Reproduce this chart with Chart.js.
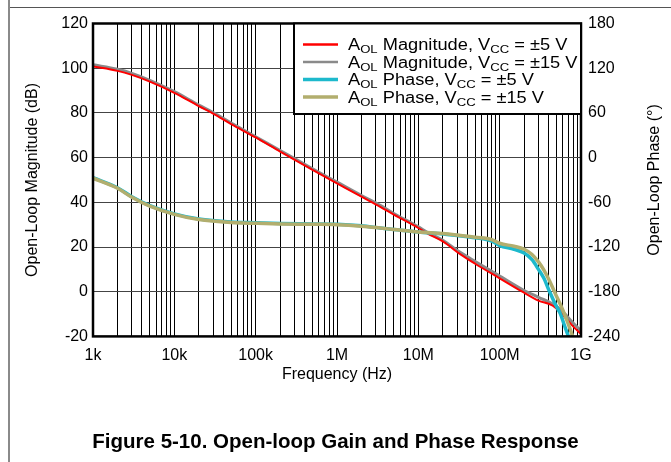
<!DOCTYPE html>
<html><head><meta charset="utf-8">
<script src="https://cdn.jsdelivr.net/npm/chart.js@4/dist/chart.umd.min.js"></script>
<style>
html,body{margin:0;padding:0;background:#fff;}
#wrap{position:relative;width:671px;height:462px;}
</style></head><body>
<div id="wrap"><canvas id="c" width="671" height="462"></canvas></div>
<script>
// ---- data (Hz, dB, degrees) ----
const magFreq = [1e3,2e3,3e3,5e3,1e4,2e4,3e4,5e4,1e5,2e5,5e5,1e6,2e6,3.4e6,5e6,1e7,1.3e7,2e7,3.3e7,5e7,1e8,1.9e8,3e8,4.5e8,5.8e8,8e8,1e9];
const magPm5  = [100.8,98.8,97,94,89,83,79.7,75,69,62.7,54.5,48.5,42.5,38,34.5,28.5,26,22.5,16.7,12.5,6,0,-4,-6.3,-10,-15.5,-19];
const magPm15 = [101.5,99.5,97.7,94.6,89.5,83.5,80.2,75.5,69.3,63.2,55,49,43,38.6,35,29,26.5,23,17.5,13.5,7,1,-2.5,-5.5,-8.5,-14,-17.5];

const phase5Freq = [1e3,2e3,3e3,5e3,1e4,2e4,5e4,1e5,2e5,5e5,1e6,2e6,3.4e6,5e6,1e7,2e7,3e7,5e7,8e7,1e8,1.5e8,2e8,2.5e8,3e8,3.5e8,4e8,5e8,5.6e8,6.2e8,7e8];
const phase5     = [-27,-40.5,-52.5,-64.5,-75.5,-82.5,-86.5,-87.5,-88.5,-89,-89.5,-91.5,-94.5,-96.5,-100,-102.5,-104.5,-107.5,-112,-118,-123,-128,-137,-150,-162,-177,-200,-210,-224,-240];
const phase15Freq = [1e3,2e3,3e3,5e3,1e4,2e4,5e4,1e5,2e5,5e5,1e6,2e6,3.4e6,5e6,1e7,2e7,3e7,5e7,8e7,1e8,1.5e8,2e8,2.5e8,3e8,3.5e8,4e8,5e8,6e8,7e8,7.9e8];
const phase15     = [-27.7,-41.2,-53.2,-65.2,-76.2,-83.2,-87.2,-88.2,-89,-89.5,-90,-92,-94.5,-96.5,-100,-102,-104,-107,-110,-115,-119,-123,-130,-140,-151,-163,-186,-205,-224,-240];

const xTickValues = [1e3,1e4,1e5,1e6,1e7,1e8,1e9];
const xTickLabels = ['1k','10k','100k','1M','10M','100M','1G'];

const seriesNames = [
  ['A','OL',' Magnitude, V','CC',' = \u00b15 V'],
  ['A','OL',' Magnitude, V','CC',' = \u00b115 V'],
  ['A','OL',' Phase, V','CC',' = \u00b15 V'],
  ['A','OL',' Phase, V','CC',' = \u00b115 V']
];
const seriesColors = ['#ff0000','#8a8a8a','#1db9cc','#b2ae6e'];

// ---- helpers ----
const pts = (xs, ys) => xs.map((x, i) => ({x: x, y: ys[i]}));
const xGrid = [];
for (let e = 3; e < 9; e++) for (let m = 1; m < 10; m++) xGrid.push(m * Math.pow(10, e));
xGrid.push(1e9);

const FONT = "'Liberation Sans', Arial, Helvetica, sans-serif";
Chart.defaults.font.family = FONT;
Chart.defaults.color = '#000';

const framePlugin = {
  id: 'frame',
  beforeDraw(chart) {
    const ctx = chart.ctx;
    ctx.save();
    ctx.strokeStyle = '#555';
    ctx.lineWidth = 1;
    ctx.beginPath(); ctx.moveTo(9, 7.5); ctx.lineTo(671, 7.5); ctx.stroke();
    ctx.strokeStyle = '#8a8a8a';
    ctx.lineWidth = 2;
    ctx.beginPath(); ctx.moveTo(9, 0); ctx.lineTo(9, 462); ctx.stroke();
    ctx.restore();
  },
  afterDatasetsDraw(chart) {
    const {ctx, chartArea: a} = chart;
    ctx.save();
    ctx.strokeStyle = '#000';
    ctx.lineWidth = 2.5;
    ctx.strokeRect(a.left, a.top, a.right - a.left, a.bottom - a.top);
    // legend
    const x0 = 294, y0 = a.top, x1 = a.right, y1 = 114;
    ctx.fillStyle = '#fff';
    ctx.fillRect(x0, y0, x1 - x0, y1 - y0);
    ctx.lineWidth = 2;
    ctx.strokeRect(x0, y0, x1 - x0, y1 - y0);
    const rowY = [44.5, 62, 79.5, 97];
    seriesNames.forEach((parts, i) => {
      const y = rowY[i];
      ctx.strokeStyle = seriesColors[i];
      ctx.lineWidth = i < 2 ? 2.5 : 3.5;
      ctx.beginPath(); ctx.moveTo(303, y); ctx.lineTo(338, y); ctx.stroke();
      ctx.save();
      ctx.translate(348, y);
      ctx.scale(1.14, 1);
      ctx.fillStyle = '#000';
      ctx.textBaseline = 'alphabetic';
      let x = 0;
      parts.forEach((p, k) => {
        const sub = (k % 2 === 1);
        ctx.font = (sub ? '11.5px ' : '16px ') + FONT;
        ctx.fillText(p, x, sub ? 8.5 : 5.5);
        x += ctx.measureText(p).width;
      });
      ctx.restore();
    });
    ctx.restore();
  },
  afterDraw(chart) {
    const {ctx, chartArea: a} = chart;
    ctx.save();
    ctx.translate(655, (a.top + a.bottom) / 2);
    ctx.rotate(-Math.PI / 2);
    ctx.font = '16px ' + FONT;
    ctx.fillStyle = '#000';
    ctx.textAlign = 'center';
    ctx.textBaseline = 'middle';
    ctx.fillText('Open-Loop Phase (\u00b0)', 0, 0);
    ctx.restore();
  }
};

const common = {pointRadius: 0, pointHoverRadius: 0, fill: false, tension: 0.4, cubicInterpolationMode: 'monotone'};

new Chart(document.getElementById('c'), {
  type: 'line',
  data: {
    datasets: [
      Object.assign({label: 'mag5', data: pts(magFreq, magPm5), borderColor: seriesColors[0], borderWidth: 2, yAxisID: 'y', order: 2}, common),
      Object.assign({label: 'mag15', data: pts(magFreq, magPm15), borderColor: seriesColors[1], borderWidth: 3, yAxisID: 'y', order: 3}, common),
      Object.assign({label: 'ph5', data: pts(phase5Freq, phase5), borderColor: seriesColors[2], borderWidth: 3.5, yAxisID: 'y1', order: 1}, common),
      Object.assign({label: 'ph15', data: pts(phase15Freq, phase15), borderColor: seriesColors[3], borderWidth: 3.5, yAxisID: 'y1', order: 0}, common)
    ]
  },
  options: {
    responsive: false,
    animation: false,
    devicePixelRatio: 1,
    parsing: true,
    layout: {padding: {left: 0, right: 0, top: 23.5, bottom: 0}},
    plugins: {
      legend: {display: false},
      tooltip: {enabled: false},
      title: {
        display: true, position: 'bottom',
        text: 'Figure 5-10. Open-loop Gain and Phase Response',
        font: {size: 20.5, weight: 'bold'}, color: '#000',
        padding: {top: 0, bottom: 7}
      }
    },
    scales: {
      x: {
        type: 'logarithmic', min: 1e3, max: 1e9,
        afterBuildTicks(s) { s.ticks = xGrid.map(v => ({value: v})); },
        afterFit(s) { s.height = 94; },
        ticks: {
          autoSkip: false, maxRotation: 0, minRotation: 0, padding: 10,
          font: {size: 16}, color: '#000',
          callback(v) { const i = xTickValues.indexOf(v); return i >= 0 ? xTickLabels[i] : ''; }
        },
        grid: {color: '#000', lineWidth: 1, drawTicks: false},
        border: {display: false},
        title: {display: true, text: 'Frequency (Hz)', font: {size: 16}, color: '#000', padding: {top: 0, bottom: 46.4}}
      },
      y: {
        type: 'linear', position: 'left', min: -20, max: 120,
        afterFit(s) { s.width = 93; },
        ticks: {stepSize: 20, padding: 5, font: {size: 16}, color: '#000'},
        grid: {color: '#444', lineWidth: 1, drawTicks: false},
        border: {display: false},
        title: {display: true, text: 'Open-Loop Magnitude (dB)', font: {size: 16}, color: '#000', padding: {top: 23.4, bottom: 0}}
      },
      y1: {
        type: 'linear', position: 'right', min: -240, max: 180,
        afterFit(s) { s.width = 90; },
        ticks: {stepSize: 60, padding: 7, font: {size: 16}, color: '#000'},
        grid: {display: false, drawTicks: false},
        border: {display: false}
      }
    }
  },
  plugins: [framePlugin]
});
</script>
</body></html>
